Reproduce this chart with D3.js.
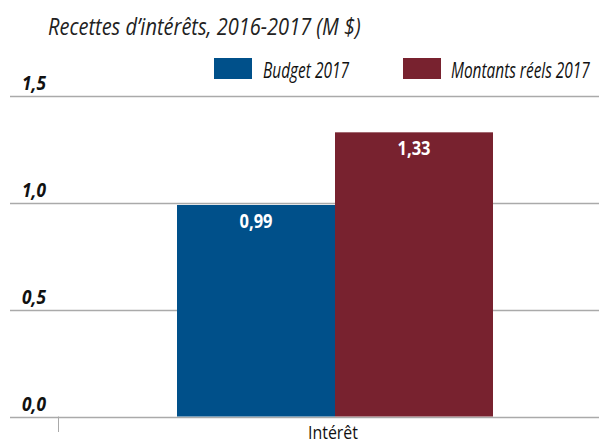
<!DOCTYPE html>
<html><head><meta charset="utf-8">
<script src="https://cdn.jsdelivr.net/npm/d3@7"></script>
<style>
body{margin:0;background:#fff;}
text{font-family:"Open Sans","Liberation Sans",sans-serif;}
</style></head>
<body><svg id="c" width="599" height="444"></svg>
<script>
const categories = ["Intérêt"];
const seriesNames = ["Budget 2017", "Montants réels 2017"];
const budget = [0.99];
const actual = [1.33];
const valueLabels = [["0,99"], ["1,33"]];
const yTicks = [0, 0.5, 1.0, 1.5];
const yTickLabels = ["0,0", "0,5", "1,0", "1,5"];
const colors = ["#00508a", "#78222f"];

const svg = d3.select("#c");
const y = d3.scaleLinear().domain([0, 1.5]).range([416.5, 96]);
const x = d3.scaleBand().domain(categories).range([177, 493]);
const xs = d3.scaleBand().domain(seriesNames).range([0, x.bandwidth()]);

// condensed text: place at (px,py) and squeeze horizontally to width w
function ctext(g, px, py, str, w) {
  const t = g.append("text").attr("x", 0).attr("y", 0).text(str);
  const nat = t.node().getComputedTextLength();
  const s = w / nat;
  t.attr("transform", `translate(${px},${py}) scale(${s},1)`);
  return t;
}

ctext(svg, 48, 35, "Recettes d’intérêts, 2016-2017 (M $)", 313)
  .attr("font-size", 23).attr("font-style", "italic").attr("fill", "#222");
// re-measure after styling
function restyle(t, px, py, w) {
  t.attr("transform", null);
  const s = w / t.node().getComputedTextLength();
  t.attr("transform", `translate(${px},${py}) scale(${s},1)`);
}
function label(g, px, py, str, w, style) {
  const t = g.append("text").attr("x", 0).attr("y", 0).text(str);
  for (const k in style) t.attr(k, style[k]);
  const s = w / t.node().getComputedTextLength();
  t.attr("transform", `translate(${px},${py}) scale(${s},1)`);
  return t;
}
svg.selectAll("text").remove();

label(svg, 48, 35, "Recettes d’intérêts, 2016-2017 (M $)", 313,
  {"font-size": 23, "font-style": "italic", "fill": "#222"});

// grid
svg.append("g").selectAll("line").data(yTicks).join("line")
  .attr("x1", 10).attr("x2", 599).attr("y1", d => Math.round(y(d)) + 0.5).attr("y2", d => Math.round(y(d)) + 0.5)
  .attr("stroke", "#aaa").attr("stroke-width", 1.5);
const tg = svg.append("g");
yTicks.forEach((d, i) => label(tg, 22, y(d) - 6, yTickLabels[i], 24,
  {"font-size": 19, "font-weight": "bold", "font-style": "italic", "fill": "#111"}));

// bars
const series = [budget, actual];
series.forEach((vals, si) => {
  const g = svg.append("g");
  g.selectAll("rect").data(vals).join("rect")
    .attr("x", (d, i) => x(categories[i]) + xs(seriesNames[si]))
    .attr("width", xs.bandwidth())
    .attr("y", d => y(d)).attr("height", d => y(0) - y(d))
    .attr("fill", colors[si]);
  vals.forEach((d, i) => label(g, x(categories[i]) + xs(seriesNames[si]) + xs.bandwidth() / 2, y(d) + 23,
    valueLabels[si][i], 33, {"font-size": 19, "font-weight": "bold", "fill": "#fff", "text-anchor": "middle"}));
});

// x axis
svg.append("line").attr("x1", 58.5).attr("x2", 58.5).attr("y1", y(0)).attr("y2", 432).attr("stroke", "#aaa").attr("stroke-width", 1);
const xg = svg.append("g");
categories.forEach(c => label(xg, x(c) + x.bandwidth() / 2 - 2, 439, c, 50,
  {"font-size": 19, "fill": "#111", "text-anchor": "middle"}));

// legend
const legX = [214, 403], legT = [263, 451], legW = [86, 139];
const lg = svg.append("g");
seriesNames.forEach((n, i) => {
  lg.append("rect").attr("x", legX[i]).attr("y", 58).attr("width", 38).attr("height", 21).attr("fill", colors[i]);
  label(lg, legT[i], 78, n, legW[i], {"font-size": 21, "font-style": "italic", "fill": "#111"});
});
</script></body></html>
